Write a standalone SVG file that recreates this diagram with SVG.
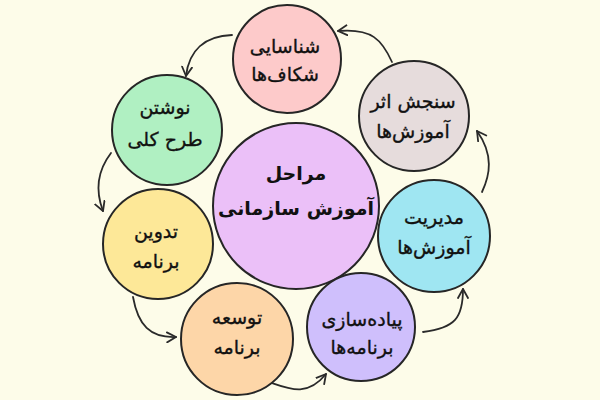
<svg xmlns="http://www.w3.org/2000/svg" width="600" height="400" viewBox="0 0 600 400">
<defs>
<marker id="ah" viewBox="0 0 12 12" refX="10" refY="6" markerWidth="12" markerHeight="12" markerUnits="userSpaceOnUse" orient="auto">
<path d="M1,1 L10,6 L1,11" fill="none" stroke="#2a2a2a" stroke-width="1.8" stroke-linecap="round" stroke-linejoin="round"/>
</marker>
<style>
.n{stroke:#262626;stroke-width:2}
.t{font-family:"DejaVu Sans",sans-serif;font-size:19px;fill:#111;stroke:#111;stroke-width:0.35;text-anchor:middle;direction:rtl}
.tc{font-family:"DejaVu Sans",sans-serif;font-size:19px;font-weight:bold;fill:#111;text-anchor:middle;direction:rtl}
.c{fill:none;stroke:#2a2a2a;stroke-width:1.8;stroke-linecap:round;marker-end:url(#ah)}
</style>
</defs>
<rect width="600" height="400" fill="#fdfce9"/>
<g id="connectors">
<path class="c" d="M392,62 C382,40 372,28 338,31"/>
<path class="c" d="M232,35 C205,36 189,50 186,76"/>
<path class="c" d="M111,153 C98,170 95,190 103,211"/>
<path class="c" d="M133,297 C138,325 150,338 176,337"/>
<path class="c" d="M272,383 C292,390 308,396 326,374"/>
<path class="c" d="M423,332 C455,328 463,318 463,289"/>
<path class="c" d="M482,192 C490,175 494,155 477,131"/>
</g>
<g id="center">
<circle class="n" cx="296" cy="206" r="83" fill="#ebc0f8"/>
<text class="tc" x="296" y="180">مراحل</text>
<text class="tc" x="296" y="215">آموزش سازمانی</text>
</g>
<g id="n1">
<circle class="n" cx="287" cy="59" r="54" fill="#fdcaca"/>
<text class="t" x="285" y="53">شناسایی</text>
<text class="t" x="285" y="81">شکاف‌ها</text>
</g>
<g id="n2">
<circle class="n" cx="167" cy="130" r="55" fill="#b0f0c2"/>
<text class="t" x="165" y="114">نوشتن</text>
<text class="t" x="165" y="146">طرح کلی</text>
</g>
<g id="n3">
<circle class="n" cx="158" cy="244" r="55" fill="#fde898"/>
<text class="t" x="156" y="238">تدوین</text>
<text class="t" x="156" y="268">برنامه</text>
</g>
<g id="n4">
<circle class="n" cx="237" cy="339" r="56" fill="#fdd6a8"/>
<text class="t" x="237" y="324">توسعه</text>
<text class="t" x="237" y="354">برنامه</text>
</g>
<g id="n5">
<circle class="n" cx="361" cy="327" r="54" fill="#cfbffc"/>
<text class="t" x="362" y="326">پیاده‌سازی</text>
<text class="t" x="362" y="354">برنامه‌ها</text>
</g>
<g id="n6">
<circle class="n" cx="434" cy="236" r="56" fill="#9fe6f2"/>
<text class="t" x="434" y="224">مدیریت</text>
<text class="t" x="434" y="254">آموزش‌ها</text>
</g>
<g id="n7">
<circle class="n" cx="414" cy="116" r="55" fill="#e6dcdc"/>
<text class="t" x="413" y="108">سنجش اثر</text>
<text class="t" x="413" y="138">آموزش‌ها</text>
</g>
</svg>
